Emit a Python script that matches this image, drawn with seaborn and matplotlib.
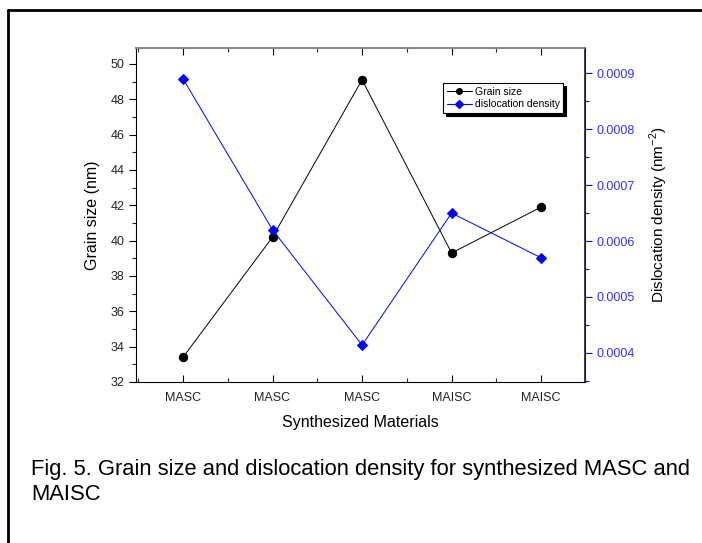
#!/usr/bin/env python3
"""Grain size and dislocation density for synthesized MASC and MAISC."""

import matplotlib
matplotlib.use("Agg")
import matplotlib.pyplot as plt
import matplotlib.ticker as mticker
from matplotlib.lines import Line2D
import pandas as pd
import seaborn as sns

sns.set_theme(style="ticks")
plt.rcParams["font.family"] = ["Liberation Sans", "DejaVu Sans"]

materials = ["MASC", "MASC", "MASC", "MAISC", "MAISC"]
grain_size = [33.4, 40.2, 49.1, 39.3, 41.9]
dislocation_density = [0.00089, 0.00062, 0.000414, 0.00065, 0.00057]

df = pd.DataFrame({
    "pos": range(len(materials)),
    "grain": grain_size,
    "disl": dislocation_density,
})

fig = plt.figure(figsize=(7.02, 5.43), dpi=100)
ax = fig.add_axes([136 / 702, 1 - 382 / 543, (585 - 136) / 702, (382 - 48) / 543])

sns.lineplot(data=df, x="pos", y="grain", color="black", marker="o",
             markersize=6, markeredgecolor="black", linewidth=0.7, ax=ax)
ax.set_ylim(32, 50.9)
ax.set_xlim(-0.525, 4.49)
ax.set_xticks(df["pos"], materials)
ax.xaxis.set_minor_locator(mticker.MultipleLocator(0.5))
ax.yaxis.set_major_locator(mticker.MultipleLocator(2))
ax.yaxis.set_minor_locator(mticker.MultipleLocator(1))
ax.tick_params(axis="both", which="major", labelsize=9, length=5, width=0.8,
               direction="out", colors="black", labelcolor="#222222")
ax.tick_params(axis="x", which="major", pad=7)
ax.tick_params(axis="both", which="minor", length=3, width=0.8, direction="out")
ax.tick_params(axis="x", top=True, which="both", direction="in")
ax.set_xlabel("Synthesized Materials", fontsize=11.5, labelpad=8, color="black")
ax.set_ylabel("Grain size (nm)", fontsize=11.5, labelpad=7, color="black")
ax.spines["top"].set_color("#888888")
ax.spines["top"].set_linewidth(1.5)
for s in ["left", "bottom"]:
    ax.spines[s].set_color("black")
    ax.spines[s].set_linewidth(0.8)

ax2 = ax.twinx()
sns.lineplot(data=df, x="pos", y="disl", color="#0000ff", marker="D",
             markersize=5.5, markeredgecolor="#0000ff", linewidth=0.7, ax=ax2)
ax2.set_ylim(0.000348, 0.000945)
ax2.yaxis.set_major_locator(mticker.MultipleLocator(0.0001))
ax2.yaxis.set_minor_locator(mticker.MultipleLocator(0.00005))
ax2.yaxis.set_major_formatter(mticker.FormatStrFormatter("%.4f"))
ax2.tick_params(axis="y", which="major", labelsize=9, length=5, width=0.8,
                colors="#0000ff", labelcolor="#3333ff")
ax2.tick_params(axis="y", which="minor", length=3, width=0.8, colors="#0000ff")
ax2.set_ylabel("Dislocation density (nm$^{\\mathregular{-2}}$)", fontsize=11,
               labelpad=9, color="black")
ax2.spines["right"].set_color("#0000ff")
ax2.spines["right"].set_linewidth(0.8)
ax2.spines["top"].set_visible(False)
ax2.spines["left"].set_visible(False)
ax2.spines["bottom"].set_visible(False)

handles = [
    Line2D([], [], color="black", marker="o", markersize=4, linewidth=0.8),
    Line2D([], [], color="#0000ff", marker="D", markersize=4, linewidth=0.8),
]
leg = ax2.legend(handles, ["Grain size", "dislocation density"],
                 loc="upper left", bbox_to_anchor=((443 - 136) / 449, 1 - (83 - 48) / 334),
                 fontsize=7.5, frameon=True, fancybox=False,
                 shadow={"color": "black", "alpha": 1},
                 borderpad=0.35, handlelength=2.4, labelspacing=0.25,
                 handletextpad=0.3, borderaxespad=0)
leg.get_frame().set_edgecolor("black")
leg.get_frame().set_linewidth(0.8)
for t in leg.get_texts():
    t.set_color("black")

# outer frame lines (top and left) and caption
fig.add_artist(Line2D([8 / 702, 1], [1 - 10 / 543] * 2, color="black", linewidth=2,
                      transform=fig.transFigure))
fig.add_artist(Line2D([8 / 702] * 2, [0, 1 - 10 / 543], color="black", linewidth=2,
                      transform=fig.transFigure))
fig.text(31 / 702, 1 - 469 / 543, "Fig. 5. Grain size and dislocation density for synthesized MASC and",
         fontsize=15.85, va="center", ha="left", color="black")
fig.text(31 / 702, 1 - 495 / 543, "MAISC", fontsize=15.85, va="center", ha="left",
         color="black")

fig.savefig("out.png", dpi=100)
